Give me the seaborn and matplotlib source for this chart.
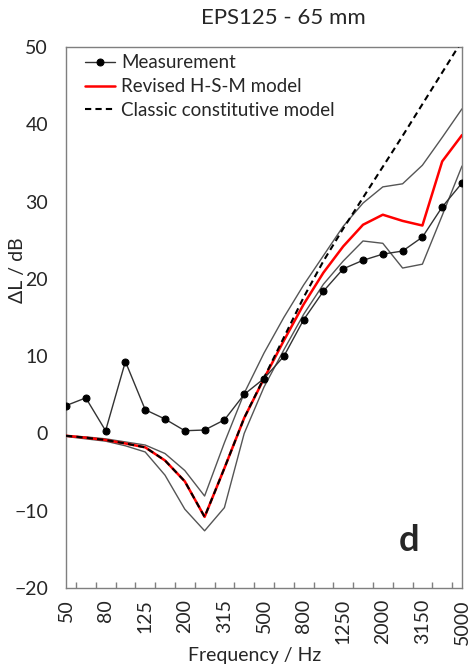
import numpy as np
import pandas as pd
import matplotlib
matplotlib.use("Agg")
import matplotlib.pyplot as plt
import seaborn as sns

# 1/3-octave band centre frequencies (Hz)
freqs = ["50", "63", "80", "100", "125", "160", "200", "250", "315", "400", "500",
         "630", "800", "1000", "1250", "1600", "2000", "2500", "3150", "4000", "5000"]
tick_labels = ["50", "80", "125", "200", "315", "500", "800", "1250", "2000", "3150", "5000"]

measurement = [3.6, 4.6, 0.35, 9.3, 3.07, 1.86, 0.35, 0.44, 1.75, 5.05, 7.1,
               9.97, 14.7, 18.4, 21.3, 22.4, 23.2, 23.6, 25.4, 29.3, 32.4]
revised = [-0.3, -0.55, -0.85, -1.3, -1.8, -3.5, -6.2, -10.8, -4.5, 2.0, 7.1,
           12.0, 16.7, 20.8, 24.2, 27.0, 28.3, 27.5, 26.9, 35.2, 38.6]
classic = [-0.3, -0.55, -0.85, -1.3, -1.8, -3.5, -6.2, -10.8, -4.5, 2.0, 7.2,
           12.4, 17.6, 22.3, 26.5, 30.5, 34.5, 38.5, 42.6, 46.7, 50.8]
upper = [-0.3, -0.45, -0.7, -1.1, -1.5, -2.6, -4.8, -8.1, -1.2, 5.2, 10.4,
         15.0, 19.2, 23.0, 26.8, 29.8, 31.9, 32.3, 34.7, 38.3, 42.0]
lower = [-0.4, -0.7, -1.0, -1.6, -2.4, -5.4, -9.8, -12.6, -9.6, 0.0, 6.0,
         10.8, 15.4, 19.3, 22.3, 24.9, 24.6, 21.4, 21.9, 28.2, 34.6]

sns.set_style("white")
plt.rcParams['font.family'] = ['Lato', 'DejaVu Sans']

df = pd.DataFrame({
    "idx": np.arange(len(freqs)),
    "freq": freqs,
    "measurement": measurement,
    "revised": revised,
    "classic": classic,
    "upper": upper,
    "lower": lower,
})

fig = plt.figure(figsize=(4.70, 6.68), dpi=100)
ax = fig.add_axes([66 / 470, 1 - 588 / 668, 396 / 470, 541 / 668])

sns.lineplot(data=df, x="idx", y="upper", color="#555555", lw=1.0, ax=ax, zorder=2)
sns.lineplot(data=df, x="idx", y="lower", color="#555555", lw=1.0, ax=ax, zorder=2)
sns.lineplot(data=df, x="idx", y="revised", color="#ff0000", lw=1.8, ax=ax, zorder=3,
             label="Revised H-S-M model")
sns.lineplot(data=df, x="idx", y="classic", color="black", lw=1.5, ax=ax, zorder=4,
             dashes=False, linestyle=(0, (3, 2)), label="Classic constitutive model")
sns.lineplot(data=df, x="idx", y="measurement", color="#333333", lw=1.0, ax=ax, zorder=5,
             marker="o", markersize=5, markerfacecolor="black", markeredgecolor="black",
             label="Measurement")

ax.set_xlim(0, len(freqs) - 1)
ax.set_ylim(-20, 50)

# major ticks: every other band, labels only
ax.set_xticks(np.arange(0, len(freqs), 2))
ax.set_xticklabels(tick_labels, rotation=90, fontsize=14)
ax.set_xticks(np.arange(0.5, len(freqs) - 1, 1), minor=True)
ax.tick_params(axis="x", which="major", length=0, pad=8)
ax.tick_params(axis="x", which="minor", direction="in", length=4, width=1, color="#7f7f7f", bottom=True)
ax.set_yticks(np.arange(-20, 51, 10))
ax.tick_params(axis="y", length=0, pad=13, labelsize=14)

for s in ax.spines.values():
    s.set_color("#7f7f7f")
    s.set_linewidth(1.0)

ax.set_xlabel("Frequency / Hz", fontsize=14, va="center")
ax.xaxis.set_label_coords((255 - 66) / 396, -(656 - 588) / 541)
ax.set_ylabel("ΔL / dB", fontsize=14, va="center")
ax.yaxis.set_label_coords(-(66 - 18) / 396, (588 - 270) / 541)

fig.text(283 / 470, 1 - 18 / 668, "EPS125 - 65 mm", ha="center", va="center", fontsize=16)

h, l = ax.get_legend_handles_labels()
order = [l.index("Measurement"), l.index("Revised H-S-M model"), l.index("Classic constitutive model")]
ax.legend([h[i] for i in order], [l[i] for i in order], loc="upper left",
          bbox_to_anchor=(0.03, 1.0), frameon=False, fontsize=13.5,
          handlelength=1.6, handletextpad=0.3, labelspacing=0.35, borderaxespad=0.0)

ax.text(0.866, 0.088, "d", transform=ax.transAxes, fontsize=26, fontweight="bold",
        ha="center", va="center")

fig.savefig("out.png", dpi=100)
